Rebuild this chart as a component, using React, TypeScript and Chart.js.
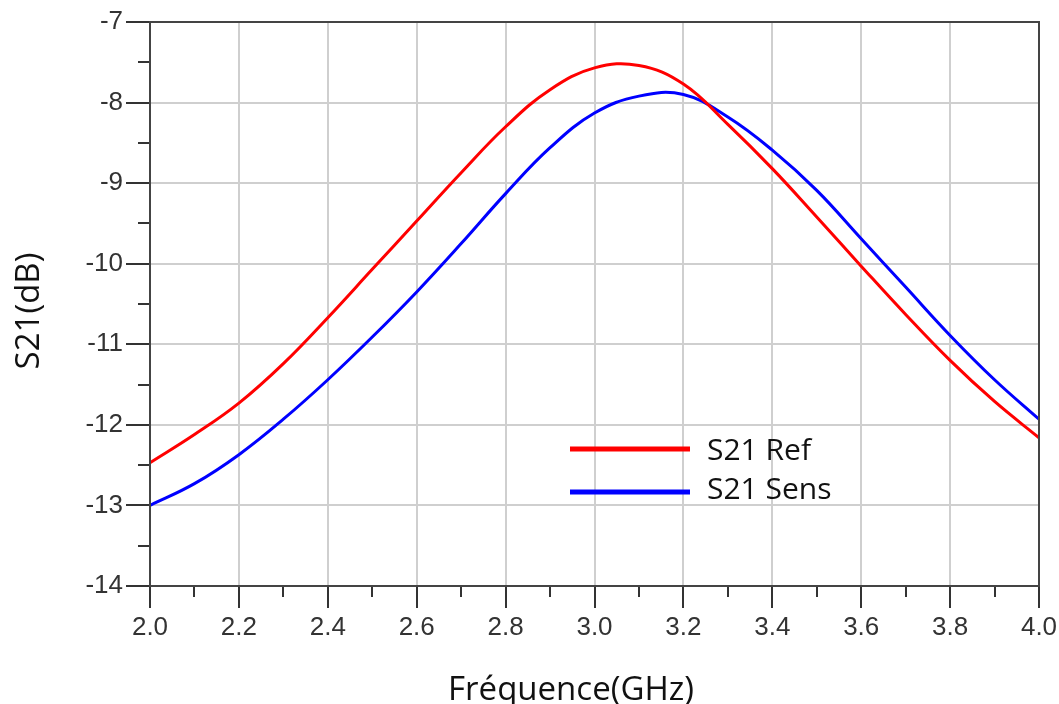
import React, { useEffect, useRef } from "react";
import { Chart, registerables } from "chart.js";

Chart.register(...registerables);

const freqs = [2.0, 2.1, 2.2, 2.3, 2.4, 2.5, 2.6, 2.7, 2.8, 2.9, 3.0, 3.1, 3.2, 3.3, 3.4, 3.5, 3.6, 3.7, 3.8, 3.9, 4.0];
const refVals = [-12.47, -12.12, -11.73, -11.24, -10.67, -10.07, -9.47, -8.87, -8.3, -7.84, -7.57, -7.54, -7.77, -8.27, -8.82, -9.42, -10.03, -10.63, -11.2, -11.71, -12.16];
const sensVals = [-13.0, -12.73, -12.37, -11.93, -11.44, -10.91, -10.35, -9.75, -9.13, -8.56, -8.13, -7.92, -7.9, -8.18, -8.59, -9.09, -9.69, -10.29, -10.89, -11.44, -11.93];
const seriesLabels = ["S21 Ref", "S21 Sens"];
const seriesColors = ["#ff0000", "#0000ff"];
const xTitle = "Fréquence(GHz)";
const yTitle = "S21(dB)";

const decorPlugin = {
  id: "decor",
  afterDraw(chart: any) {
    const ctx = chart.ctx;
    const { left, right, top, bottom } = chart.chartArea;
    const xs = chart.scales.x;
    const ys = chart.scales.y;
    ctx.save();
    // ticks
    ctx.strokeStyle = "#333";
    ctx.lineWidth = 2;
    for (let k = 0; k <= 14; k++) {
      const v = -14 + k * 0.5;
      const y = Math.round(ys.getPixelForValue(v));
      const len = k % 2 === 0 ? 24 : 12;
      ctx.beginPath();
      ctx.moveTo(left - len, y);
      ctx.lineTo(left, y);
      ctx.stroke();
    }
    for (let i = 0; i <= 20; i++) {
      const v = 2 + i * 0.1;
      const x = Math.round(xs.getPixelForValue(v));
      const len = i % 2 === 0 ? 22 : 11;
      ctx.beginPath();
      ctx.moveTo(x, bottom);
      ctx.lineTo(x, bottom + len);
      ctx.stroke();
    }
    // frame
    ctx.strokeStyle = "#444";
    ctx.lineWidth = 2;
    ctx.strokeRect(left, top, right - left, bottom - top);
    // legend
    const legendY = [449, 492];
    const textY = [451, 490];
    chart.data.datasets.forEach((ds: any, i: number) => {
      ctx.strokeStyle = ds.borderColor;
      ctx.lineWidth = 5;
      ctx.beginPath();
      ctx.moveTo(570, legendY[i]);
      ctx.lineTo(690, legendY[i]);
      ctx.stroke();
      ctx.fillStyle = "#111";
      ctx.font = '30px "Open Sans"';
      ctx.textAlign = "left";
      ctx.textBaseline = "middle";
      ctx.fillText(ds.label, 707, textY[i]);
    });
    // axis titles
    ctx.fillStyle = "#111";
    ctx.font = '33px "Open Sans"';
    ctx.textAlign = "center";
    ctx.textBaseline = "alphabetic";
    ctx.fillText(xTitle, 571, 700);
    ctx.translate(39, 311);
    ctx.rotate(-Math.PI / 2);
    ctx.fillText(yTitle, 0, 0);
    ctx.restore();
  },
};

const zeroPad = (s: any) => {
  s.paddingTop = 0;
  s.paddingBottom = 0;
  s.paddingLeft = 0;
  s.paddingRight = 0;
};

export default function App() {
  const ref = useRef<HTMLCanvasElement | null>(null);
  useEffect(() => {
    document.body.style.margin = "0";
    const canvas = ref.current;
    if (!canvas) return;
    const chart = new Chart(canvas, {
      type: "line",
      data: {
        datasets: [
          {
            label: seriesLabels[0],
            data: freqs.map((f, i) => ({ x: f, y: refVals[i] })),
            borderColor: seriesColors[0],
            backgroundColor: seriesColors[0],
            borderWidth: 3,
            pointRadius: 0,
            tension: 0.4,
          },
          {
            label: seriesLabels[1],
            data: freqs.map((f, i) => ({ x: f, y: sensVals[i] })),
            borderColor: seriesColors[1],
            backgroundColor: seriesColors[1],
            borderWidth: 3,
            pointRadius: 0,
            tension: 0.4,
          },
        ],
      },
      options: {
        animation: false,
        responsive: false,
        layout: { padding: { top: 22, right: 20, left: 0, bottom: 0 } },
        plugins: { legend: { display: false }, tooltip: { enabled: false } },
        scales: {
          x: {
            type: "linear",
            min: 2,
            max: 4,
            border: { display: false },
            grid: { color: "#cfcfcf", lineWidth: 2, drawTicks: false },
            ticks: {
              stepSize: 0.2,
              padding: 26,
              color: "#333",
              font: { family: '"Liberation Sans", Arial', size: 26 },
              callback: (v: any) => Number(v).toFixed(1),
              maxRotation: 0,
              autoSkip: false,
            },
            afterFit: (s: any) => {
              s.height = 118;
              zeroPad(s);
            },
          },
          y: {
            type: "linear",
            min: -14,
            max: -7,
            border: { display: false },
            grid: { color: "#cfcfcf", lineWidth: 2, drawTicks: false },
            ticks: {
              stepSize: 1,
              padding: 27,
              color: "#333",
              font: { family: '"Liberation Sans", Arial', size: 26 },
              autoSkip: false,
            },
            afterFit: (s: any) => {
              s.width = 150;
              zeroPad(s);
            },
          },
        },
      },
      plugins: [decorPlugin],
    });
    return () => chart.destroy();
  }, []);
  return (
    <div style={{ width: 1059, height: 704 }}>
      <canvas ref={ref} width={1059} height={704} style={{ display: "block" }} />
    </div>
  );
}
